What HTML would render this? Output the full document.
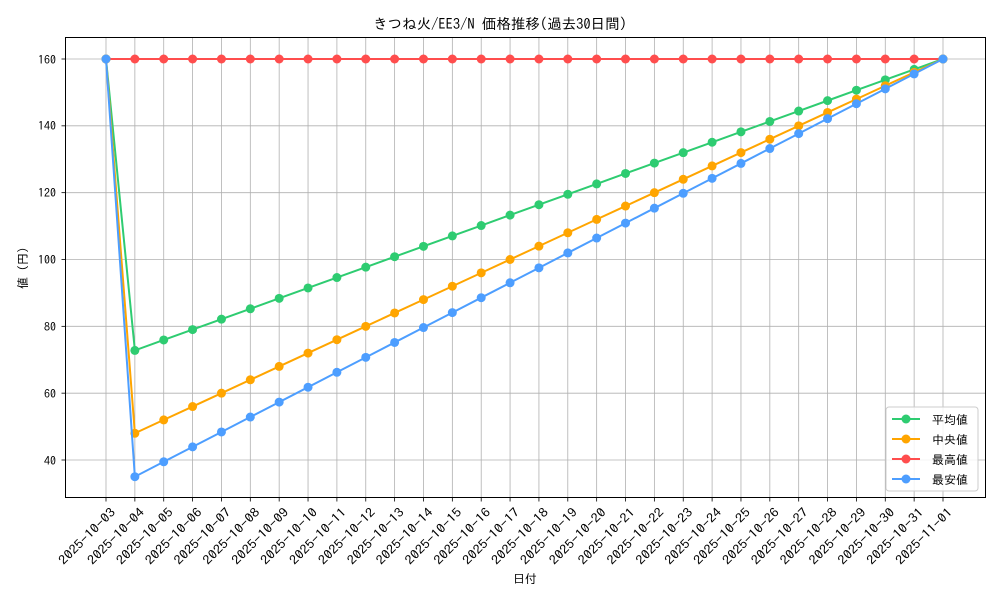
<!DOCTYPE html>
<html><head><meta charset="utf-8"><style>
body{margin:0;background:#fff}
svg text{font-family:"IPAGothic","Liberation Sans",sans-serif;fill:#000}
</style></head><body>
<svg id="s" width="1000" height="600" xmlns="http://www.w3.org/2000/svg">
<rect width="1000" height="600" fill="#fff"/>
<g id="grid" stroke="#b0b0b0" stroke-width="0.8"></g>
<g id="series"></g>
<rect x="65.5" y="37.5" width="920" height="460" fill="none" stroke="#000" stroke-width="1"/>
<text x="500" y="29" font-size="14.5" text-anchor="middle">きつね火/EE3/N 価格推移(過去30日間)</text>
<g font-size="12" text-anchor="end">
<text x="56" y="64">160</text><text x="56" y="130">140</text><text x="56" y="197">120</text>
<text x="56" y="264">100</text><text x="56" y="331">80</text><text x="56" y="398">60</text><text x="56" y="465">40</text>
</g>
<text transform="translate(27,268) rotate(-90)" font-size="12" text-anchor="middle">値 (円)</text>
<text x="525" y="583" font-size="12" text-anchor="middle">日付</text>
<g id="xl" font-size="12.5" text-anchor="end">
<text>2025-10-03</text><text>2025-10-04</text><text>2025-10-05</text><text>2025-10-06</text><text>2025-10-07</text>
<text>2025-10-08</text><text>2025-10-09</text><text>2025-10-10</text><text>2025-10-11</text><text>2025-10-12</text>
<text>2025-10-13</text><text>2025-10-14</text><text>2025-10-15</text><text>2025-10-16</text><text>2025-10-17</text>
<text>2025-10-18</text><text>2025-10-19</text><text>2025-10-20</text><text>2025-10-21</text><text>2025-10-22</text>
<text>2025-10-23</text><text>2025-10-24</text><text>2025-10-25</text><text>2025-10-26</text><text>2025-10-27</text>
<text>2025-10-28</text><text>2025-10-29</text><text>2025-10-30</text><text>2025-10-31</text><text>2025-11-01</text>
</g>
<g>
<rect x="886" y="407" width="92" height="84" rx="3" fill="#fff" fill-opacity="0.85" stroke="#ccc"/>
<line x1="892" y1="419" x2="920" y2="419" stroke="#2ecc71" stroke-width="2"/><circle cx="906" cy="419" r="4.5" fill="#2ecc71"/>
<line x1="892" y1="439" x2="920" y2="439" stroke="#ffa500" stroke-width="2"/><circle cx="906" cy="439" r="4.5" fill="#ffa500"/>
<line x1="892" y1="459" x2="920" y2="459" stroke="#ff4d4d" stroke-width="2"/><circle cx="906" cy="459" r="4.5" fill="#ff4d4d"/>
<line x1="892" y1="479" x2="920" y2="479" stroke="#4d9eff" stroke-width="2"/><circle cx="906" cy="479" r="4.5" fill="#4d9eff"/>
<g font-size="12"><text x="932" y="424">平均値</text><text x="932" y="444">中央値</text><text x="932" y="464">最高値</text><text x="932" y="484">最安値</text></g>
</g>
</svg>
<script>
const N='http://www.w3.org/2000/svg';
const X=i=>106+i*(943-106)/29, Y=v=>460-(v-40)*401/120;
const g=document.getElementById('grid');
function el(p,t,a){const e=document.createElementNS(N,t);for(const k in a)e.setAttribute(k,a[k]);p.appendChild(e);return e;}
for(let i=0;i<30;i++){el(g,'line',{x1:X(i),x2:X(i),y1:37.5,y2:497.5});el(g,'line',{x1:X(i),x2:X(i),y1:497.5,y2:501.5,stroke:'#000'});}
for(let v=40;v<=160;v+=20){el(g,'line',{x1:65.5,x2:985.5,y1:Y(v),y2:Y(v)});el(g,'line',{x1:61.5,x2:65.5,y1:Y(v),y2:Y(v),stroke:'#000'});}
const xl=document.getElementById('xl').children;
for(let i=0;i<30;i++){const x=X(i)+4,y=507;xl[i].setAttribute('transform',`translate(${x},${y}) rotate(-45)`);xl[i].setAttribute('dy','0.7em');xl[i].setAttribute('textLength','74');xl[i].setAttribute('lengthAdjust','spacingAndGlyphs');}
const ser=[
['#ff4d4d',i=>160],
['#2ecc71',i=>i==0?160:72.8+(i-1)*(160-72.8)/28],
['#ffa500',i=>i==0?160:48+(i-1)*4],
['#4d9eff',i=>i==0?160:35+(i-1)*125/28]];
const sg=document.getElementById('series');
for(const [c,f] of ser){let p='';for(let i=0;i<30;i++)p+=(i?'L':'M')+X(i)+','+Y(f(i));
el(sg,'path',{d:p,fill:'none',stroke:c,'stroke-width':2});
for(let i=0;i<30;i++)el(sg,'circle',{cx:X(i),cy:Y(f(i)),r:4.5,fill:c});}
</script>
</body></html>
